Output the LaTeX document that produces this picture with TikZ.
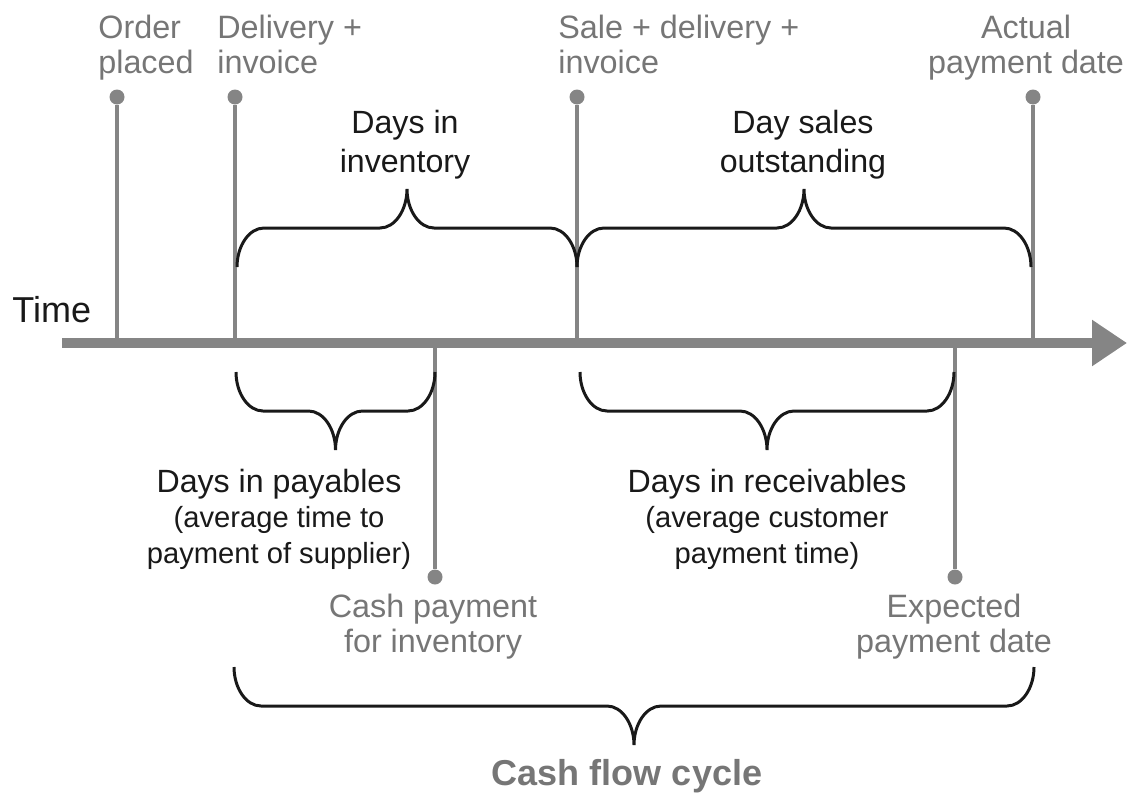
\documentclass[tikz,border=0pt]{standalone}
\usepackage{fontspec}
\setmainfont{Liberation Sans}
\usetikzlibrary{arrows.meta}

\definecolor{axisgray}{RGB}{133,133,133}
\definecolor{labelgray}{RGB}{118,118,118}
\definecolor{textblack}{RGB}{25,25,25}

\tikzset{
  tick/.style={axisgray, line width=2.2pt},
  dot/.style={circle, fill=axisgray, inner sep=0pt, minimum size=3mm},
  evlabel/.style={labelgray, inner sep=0pt, font=\fontsize{18.4}{19.5}\selectfont},
  spanlabel/.style={textblack, inner sep=0pt, align=center},
  bracestyle/.style={textblack, line width=1.7pt},
}

% brace: left x, right x, end y, direction (-1 up, 1 down)
\newcommand{\spanbrace}[4]{%
  \pgfmathsetmacro\bmid{(#1+#2)/2}
  \pgfmathsetmacro\bya{#3+(#4)*21}
  \pgfmathsetmacro\byb{#3+(#4)*39}
  \pgfmathsetmacro\byc{#3+(#4)*57}
  \pgfmathsetmacro\byd{#3+(#4)*78}
  \draw[bracestyle] (#1,#3) .. controls (#1,\bya) and (#1+12,\byb) .. (#1+27,\byb)
    -- (\bmid-27,\byb) .. controls (\bmid-12,\byb) and (\bmid,\byc) .. (\bmid,\byd)
    .. controls (\bmid,\byc) and (\bmid+12,\byb) .. (\bmid+27,\byb)
    -- (#2-27,\byb) .. controls (#2-12,\byb) and (#2,\bya) .. (#2,#3);
}

\begin{document}
\begin{tikzpicture}[x=0.2mm, y=-0.2mm]
\useasboundingbox (0,0) rectangle (1132,793);

% time axis
\coordinate (tstart) at (62,343);
\coordinate (tend) at (1127,343);
\node[textblack, inner sep=0pt, anchor=base west, font=\fontsize{20.5}{22}\selectfont] (time) at (12,322) {Time};

% events above the axis
\node[dot] (ordr) at (117,97) {};
\node[dot] (deliv) at (235,97) {};
\node[dot] (sale) at (577,97) {};
\node[dot] (actual) at (1033,97) {};
\coordinate (ordr0) at (117,343);
\coordinate (deliv0) at (235,343);
\coordinate (sale0) at (577,343);
\coordinate (actual0) at (1033,343);

% events below the axis
\node[dot] (cashpay) at (435,577) {};
\node[dot] (expect) at (955,577) {};
\coordinate (cashpay0) at (435,343);
\coordinate (expect0) at (955,343);

\begin{scope}[tick]
\draw (ordr0) -- (ordr);
\draw (deliv0) -- (deliv);
\draw (sale0) -- (sale);
\draw (actual0) -- (actual);
\draw (cashpay0) -- (cashpay);
\draw (expect0) -- (expect);
\end{scope}

\draw[axisgray, line width=6.2pt, -{Triangle[length=7mm, width=8.8mm]}] (tstart) -- (tend);

% labels: base = last line
\node[evlabel, align=left, anchor=base west] (ordrl) at (98,73) {Order\\placed};
\node[evlabel, align=left, anchor=base west] (delivl) at (217,73) {Delivery +\\invoice};
\node[evlabel, align=left, anchor=base west] (salel) at (558,73) {Sale + delivery +\\invoice};
\node[evlabel, align=center, anchor=base] (actuall) at (1026,73) {Actual\\payment date};
\node[evlabel, align=center, anchor=base] (cashpayl) at (433,652) {Cash payment\\for inventory};
\node[evlabel, align=center, anchor=base] (expectl) at (954,652) {Expected\\payment date};

% spans
\spanbrace{237}{577}{267}{-1} %deliv-sale
\spanbrace{577}{1031}{267}{-1} %sale-actual
\spanbrace{236}{435}{372}{1} %deliv-cashpay
\spanbrace{580}{954}{372}{1} %sale-expect
\spanbrace{234}{1034}{667}{1} %deliv-actual

\node[spanlabel, anchor=base, font=\fontsize{18.3}{22}\selectfont] (inv) at (405,172) {Days in\\inventory};
\node[spanlabel, anchor=base, font=\fontsize{18.3}{22}\selectfont] (dso) at (803,172) {Day sales\\outstanding};
\node[spanlabel, anchor=base, font=\fontsize{18.3}{20}\selectfont] (pay) at (279,563)
  {Days in payables\\\fontsize{16.6}{20}\selectfont(average time to\\\fontsize{16.6}{20}\selectfont payment of supplier)};
\node[spanlabel, anchor=base, font=\fontsize{18.3}{20}\selectfont] (rec) at (767,563)
  {Days in receivables\\\fontsize{16.6}{20}\selectfont(average customer\\\fontsize{16.6}{20}\selectfont payment time)};
\node[labelgray, inner sep=0pt, anchor=base, font=\bfseries\fontsize{20.5}{22}\selectfont] (cfc) at (627,785) {Cash flow cycle};

\end{tikzpicture}
\end{document}
